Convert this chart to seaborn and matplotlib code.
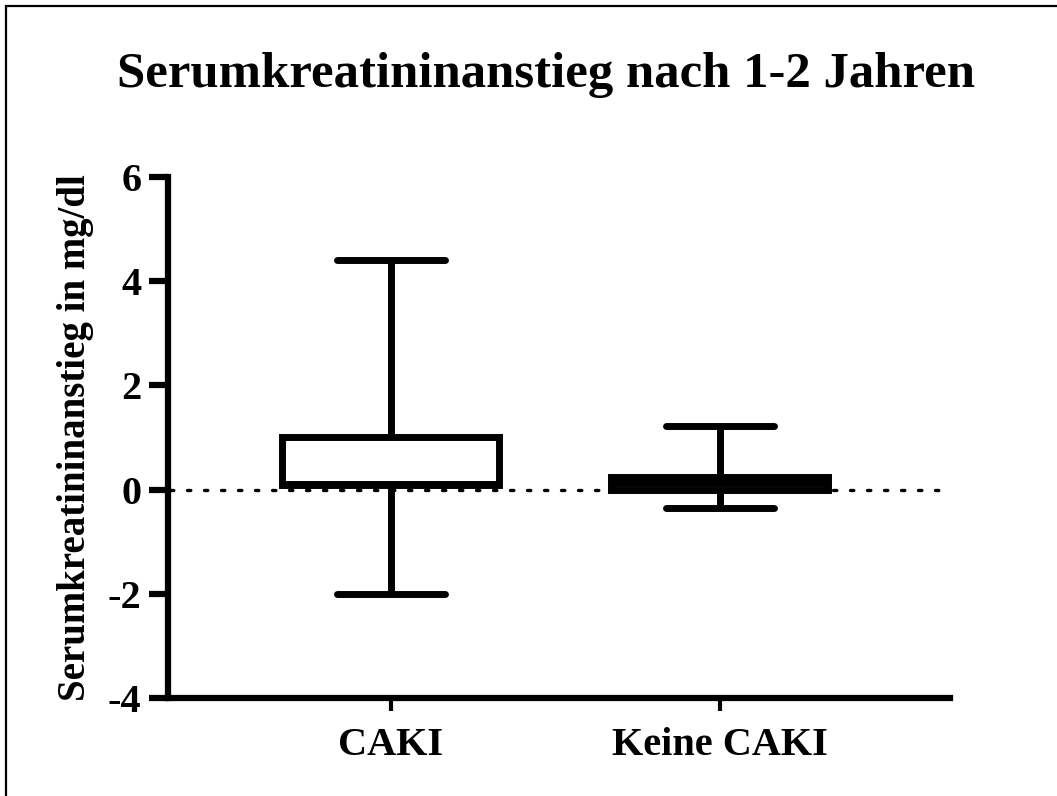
import matplotlib
matplotlib.use("Agg")
import matplotlib.pyplot as plt
import pandas as pd
import seaborn as sns
from matplotlib.patches import Rectangle

# five-number summaries: min, Q1, median, Q3, max
groups = ["CAKI", "Keine CAKI"]
caki_values = [-2.0, 0.08, 0.1, 1.0, 4.4]
keine_caki_values = [-0.35, 0.0, 0.12, 0.25, 1.22]
y_ticks = [-4, -2, 0, 2, 4, 6]

df = pd.DataFrame({
    "Gruppe": [groups[0]] * len(caki_values) + [groups[1]] * len(keine_caki_values),
    "Wert": caki_values + keine_caki_values,
})

sns.set_style("ticks", {"axes.edgecolor": "black", "text.color": "black",
                        "xtick.color": "black", "ytick.color": "black",
                        "axes.labelcolor": "black"})
plt.rcParams["font.family"] = ["Liberation Serif", "DejaVu Serif"]
plt.rcParams["font.weight"] = "bold"

fig = plt.figure(figsize=(10.57, 7.96), dpi=100)
ax = fig.add_axes([168 / 1057, 1 - 698 / 796, (950 - 168) / 1057, (698 - 177) / 796])

lw = 5.0
sns.boxplot(data=df, x="Gruppe", y="Wert", order=groups, whis=(0, 100),
            width=0.66, color="white", linecolor="black", linewidth=lw,
            showfliers=False, ax=ax,
            medianprops=dict(linewidth=lw, color="black"),
            capprops=dict(linewidth=lw), whiskerprops=dict(linewidth=lw),
            boxprops=dict(linewidth=lw, facecolor="white", edgecolor="black"))

# dotted zero line
ax.axhline(0, color="black", linestyle=(0, (1, 4.1)), linewidth=2.4, zorder=0.5,
           xmin=0.003, xmax=0.99, dash_capstyle="round")

ax.set_xlim(-0.678, 1.70)
ax.set_ylim(-4, 6)
ax.set_yticks(y_ticks)
ax.set_yticklabels([str(t) for t in y_ticks], fontsize=29, fontweight="bold")
ax.set_xticks([0, 1])
ax.set_xticklabels(groups, fontsize=29, fontweight="bold")
ax.set_xlabel("")
ax.set_ylabel("Serumkreatininanstieg in mg/dl", fontsize=28, fontweight="bold", labelpad=10)
ax.tick_params(axis="y", length=14, width=4.5, pad=5, colors="black")
ax.tick_params(axis="x", length=9, width=3, pad=12, colors="black")
for side in ["left", "bottom"]:
    ax.spines[side].set_linewidth(4.5)
    ax.spines[side].set_color("black")
sns.despine(ax=ax)

fig.suptitle("Serumkreatininanstieg nach 1-2 Jahren", fontsize=36.5, fontweight="bold",
             x=546 / 1057, y=1 - 75 / 796, va="center", color="black")

fig.patches.append(Rectangle((6 / 1057, -0.1), 1.2, 1 - 6 / 796 + 0.1,
                             transform=fig.transFigure, fill=False,
                             edgecolor="black", linewidth=1.6))

plt.savefig("out.png", dpi=100)
